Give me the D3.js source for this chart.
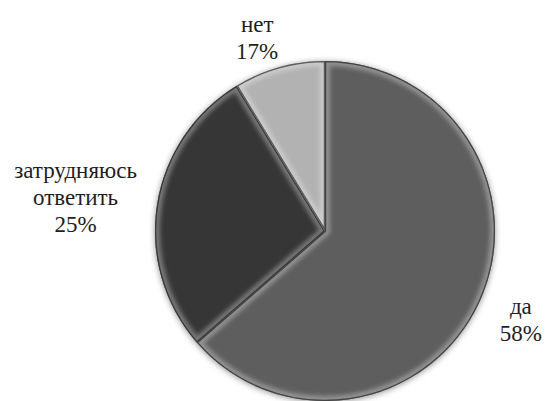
<!DOCTYPE html>
<html>
<head>
<meta charset="utf-8">
<script src="https://cdn.jsdelivr.net/npm/d3@7"></script>
<style>
  body { margin: 0; background: #fff; }
</style>
</head>
<body>
<div id="chart-area"></div>
<script>
// answers, share of the circle as drawn, and the printed percent labels
var categories = ["да", "затрудняюсь ответить", "нет"];
var sliceShares = [63.6, 27.7, 8.7];
var pctLabels = ["58%", "25%", "17%"];
var colors = ["#5e5e5e", "#363636", "#b2b2b2"];

var width = 546, height = 401;
var cx = 325, cy = 231, radius = 170;

var svg = d3.select("#chart-area").append("svg")
  .attr("width", width)
  .attr("height", height);

var defs = svg.append("defs");
var shadow = defs.append("filter").attr("id", "shadow")
  .attr("x", "-20%").attr("y", "-20%").attr("width", "140%").attr("height", "140%");
shadow.append("feDropShadow")
  .attr("dx", 0).attr("dy", 1)
  .attr("stdDeviation", 3)
  .attr("flood-color", "#000")
  .attr("flood-opacity", 0.45);
var soft = defs.append("filter").attr("id", "soft");
soft.append("feGaussianBlur").attr("stdDeviation", 2.2);

var data = categories.map((c, i) => {
  return {name: c, share: sliceShares[i], pct: pctLabels[i], color: colors[i]};
});

var pie = d3.pie().sort(null).value((d) => { return d.share; });
var arc = d3.arc().innerRadius(0).outerRadius(radius);
var arcs = pie(data);

var g = svg.append("g").attr("transform", "translate(" + cx + "," + cy + ")");

// shadow under the whole pie
g.append("circle").attr("r", radius).attr("fill", "#555").attr("filter", "url(#shadow)");

arcs.forEach((d, i) => {
  defs.append("clipPath").attr("id", "clip" + i)
    .append("path").attr("d", arc(d));
});

var slices = g.selectAll("g.slice").data(arcs).enter().append("g").attr("class", "slice");

slices.append("path")
  .attr("d", arc)
  .attr("fill", (d) => { return d.data.color; });

// bevel: soft light rim inside each slice
slices.append("g")
  .attr("clip-path", (d, i) => { return "url(#clip" + i + ")"; })
  .append("path")
  .attr("d", arc)
  .attr("fill", "none")
  .attr("stroke", "#fff")
  .attr("stroke-opacity", 0.32)
  .attr("stroke-width", 10)
  .attr("filter", "url(#soft)");

slices.append("g")
  .attr("clip-path", (d, i) => { return "url(#clip" + i + ")"; })
  .append("path")
  .attr("d", arc)
  .attr("fill", "none")
  .attr("stroke", "#111")
  .attr("stroke-opacity", 0.6)
  .attr("stroke-width", 2.5);

// labels outside, box pushed away from the rim, then nudged like Excel's best fit
var lineH = 27, fs = 23;
var nudge = {"да": [11, 3], "затрудняюсь ответить": [-9, 0], "нет": [-13, 7]};
var labels = g.selectAll("g.label").data(arcs).enter().append("g").attr("class", "label");

labels.each(function(d) {
  var lines = d.data.name === "затрудняюсь ответить"
    ? ["затрудняюсь", "ответить", d.data.pct]
    : [d.data.name, d.data.pct];
  var inner = d3.select(this).append("g");
  lines.forEach((l, k) => {
    inner.append("text")
      .attr("x", 0).attr("y", k * lineH)
      .attr("text-anchor", "middle")
      .style("font-family", "Liberation Serif")
      .attr("font-size", fs)
      .attr("fill", "#1e1e1e")
      .text(l);
  });
  var bb = inner.node().getBBox();
  var a = (d.startAngle + d.endAngle) / 2;
  var s = Math.sin(a), c = -Math.cos(a);
  var r = radius + 12;
  var n = nudge[d.data.name];
  var bx = r * s + s * bb.width / 2 + n[0];
  var by = r * c + c * bb.height / 2 + n[1];
  var ox = bx - (bb.x + bb.width / 2);
  var oy = by - (bb.y + bb.height / 2);
  d3.select(this).attr("transform", "translate(" + ox + "," + oy + ")");
});
</script>
</body>
</html>
